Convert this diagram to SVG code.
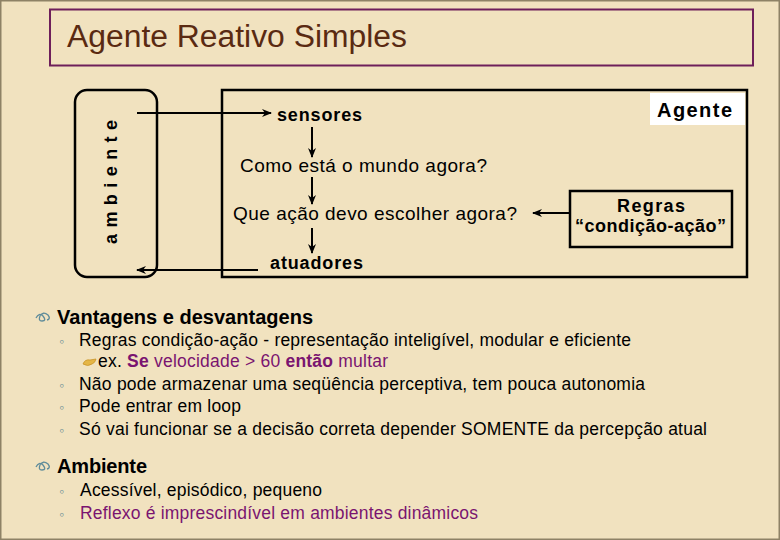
<svg xmlns="http://www.w3.org/2000/svg" width="780" height="540" viewBox="0 0 780 540">
<defs>
<style>
text{font-family:"Liberation Sans",Arial,sans-serif;fill:#000}
.b{font-weight:bold}
.ln{stroke:#000;stroke-width:2.5;fill:none}
.arr{stroke:#000;stroke-width:2;fill:none}
.p{fill:#7a1470}
.it{font-size:17.5px}
.sb{fill:#6f8f95;font-size:14px}
</style>
<marker id="ah" viewBox="0 0 10 10" refX="9" refY="5" markerWidth="5" markerHeight="5" orient="auto" markerUnits="strokeWidth">
<path d="M0,1 L10,5 L0,9 L3,5 Z" fill="#000"/>
</marker>
</defs>
<rect x="0" y="0" width="780" height="540" fill="#F1E2BF"/>
<rect x="0.75" y="0.75" width="778.5" height="538.5" fill="none" stroke="#8e8266" stroke-width="1.5"/>
<g id="title">
<rect x="50" y="9.5" width="703" height="56" fill="none" stroke="#6e1f5a" stroke-width="2"/>
<text x="67" y="47" font-size="31" textLength="340" lengthAdjust="spacingAndGlyphs" style="fill:#5a2a12">Agente Reativo Simples</text>
</g>
<g id="ambiente">
<rect x="75" y="90" width="82" height="187" rx="12" class="ln"/>
<text transform="translate(117,244) rotate(-90)" font-size="18" class="b" textLength="124" lengthAdjust="spacing">ambiente</text>
</g>
<g id="agente">
<rect x="222" y="90" width="525" height="187" class="ln"/>
<rect x="650" y="93" width="95" height="32" fill="#fff"/>
<text x="657" y="117" font-size="20" class="b" textLength="75" lengthAdjust="spacing">Agente</text>
</g>
<g id="sensores"><text x="277" y="121" font-size="18" class="b" textLength="85" lengthAdjust="spacing">sensores</text></g>
<g id="como"><text x="240" y="172" font-size="19" textLength="247" lengthAdjust="spacing">Como está o mundo agora?</text></g>
<g id="que"><text x="233" y="220" font-size="19" textLength="284" lengthAdjust="spacing">Que ação devo escolher agora?</text></g>
<g id="atuadores"><text x="270" y="269" font-size="18" class="b" textLength="93" lengthAdjust="spacing">atuadores</text></g>
<g id="regras">
<rect x="570" y="191" width="162" height="56" class="ln"/>
<text x="617" y="212" font-size="18" class="b" textLength="68" lengthAdjust="spacing">Regras</text>
<text x="575" y="232" font-size="18" class="b" textLength="151" lengthAdjust="spacing">“condição-ação”</text>
</g>
<g id="connectors">
<line x1="137" y1="113" x2="271" y2="113" class="arr" marker-end="url(#ah)"/>
<line x1="312" y1="127" x2="312" y2="157" class="arr" marker-end="url(#ah)"/>
<line x1="312" y1="177" x2="312" y2="204" class="arr" marker-end="url(#ah)"/>
<line x1="312" y1="228" x2="312" y2="253" class="arr" marker-end="url(#ah)"/>
<line x1="258" y1="270" x2="137" y2="270" class="arr" marker-end="url(#ah)"/>
<line x1="570" y1="213" x2="533" y2="213" class="arr" marker-end="url(#ah)"/>
</g>
<g id="bullets">
<path d="M36,318 q3,-6 7,-2 q4,5 -1,5 q-4,0 -2,-5 q3,-5 8,-1 q3,4 -1,5" fill="none" stroke="#5f8c9a" stroke-width="1.3"/>
<text x="57" y="324" font-size="20" class="b" textLength="256" lengthAdjust="spacing">Vantagens e desvantagens</text>
<text x="59" y="346" class="sb">◦</text>
<text x="79" y="346" class="it" textLength="552" lengthAdjust="spacing">Regras condição-ação - representação inteligível, modular e eficiente</text>
<path d="M83,364 q2,-5 7,-4 l6,-1 q-1,4 -4,5 q-4,3 -9,0 z" fill="#e5b646" stroke="#c9942a" stroke-width="0.8"/>
<text x="98" y="367" class="it" textLength="290" lengthAdjust="spacing">ex. <tspan class="p b">Se</tspan><tspan class="p"> velocidade &gt; 60 </tspan><tspan class="p b">então</tspan><tspan class="p"> multar</tspan></text>
<text x="59" y="390" class="sb">◦</text>
<text x="79" y="390" class="it" textLength="566" lengthAdjust="spacing">Não pode armazenar uma seqüência perceptiva, tem pouca autonomia</text>
<text x="59" y="412" class="sb">◦</text>
<text x="79" y="412" class="it" textLength="162" lengthAdjust="spacing">Pode entrar em loop</text>
<text x="59" y="435" class="sb">◦</text>
<text x="79" y="435" class="it" textLength="628" lengthAdjust="spacing">Só vai funcionar se a decisão correta depender SOMENTE da percepção atual</text>
<path d="M36,467 q3,-6 7,-2 q4,5 -1,5 q-4,0 -2,-5 q3,-5 8,-1 q3,4 -1,5" fill="none" stroke="#5f8c9a" stroke-width="1.3"/>
<text x="57" y="473" font-size="20" class="b" textLength="90" lengthAdjust="spacing">Ambiente</text>
<text x="59" y="496" class="sb">◦</text>
<text x="80" y="496" class="it" textLength="242" lengthAdjust="spacing">Acessível, episódico, pequeno</text>
<text x="59" y="519" class="sb">◦</text>
<text x="80" y="519" class="it p" textLength="398" lengthAdjust="spacing">Reflexo é imprescindível em ambientes dinâmicos</text>
</g>
</svg>
